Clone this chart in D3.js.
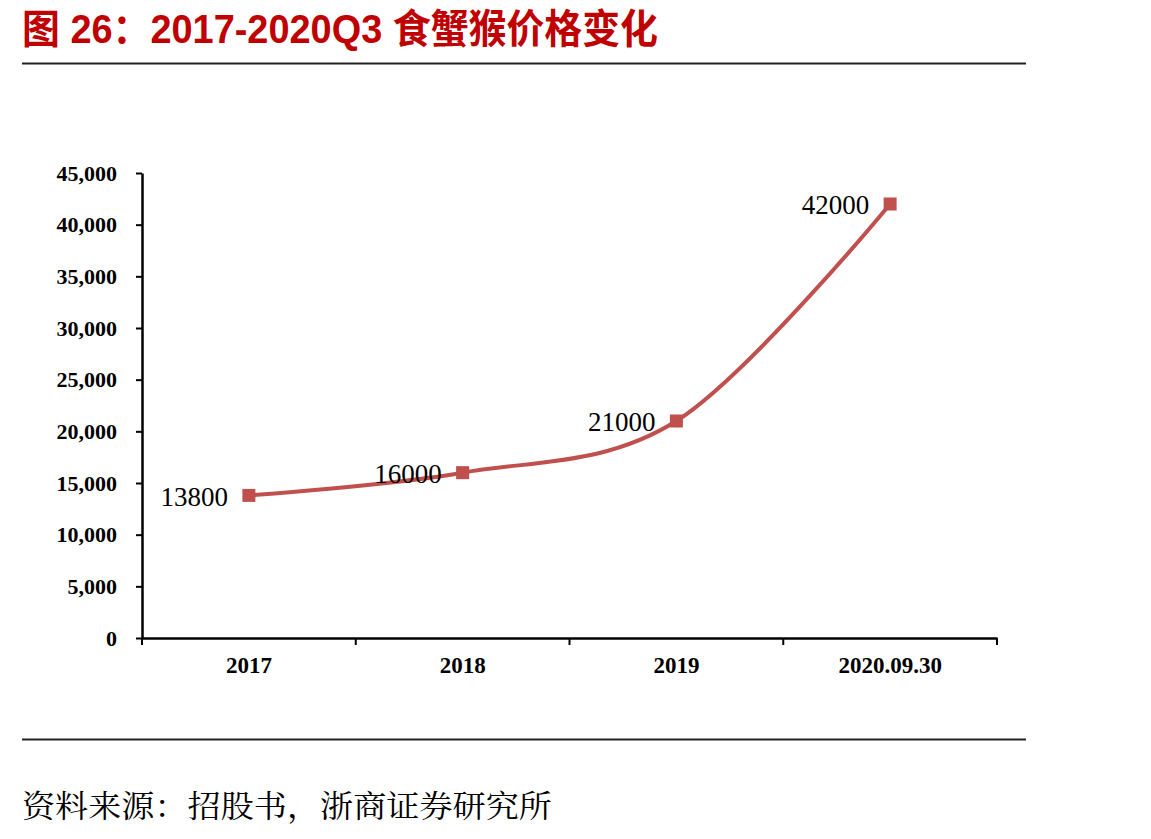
<!DOCTYPE html>
<html>
<head>
<meta charset="utf-8">
<script src="https://cdn.jsdelivr.net/npm/d3@7"></script>
<style>
  body { margin: 0; background: #fff; }
  svg { display: block; }
</style>
</head>
<body>
<svg id="chart" width="1151" height="839"></svg>
<script>
const categories = ["2017", "2018", "2019", "2020.09.30"]
const prices = [13800, 16000, 21000, 42000]
const yTicks = [0, 5000, 10000, 15000, 20000, 25000, 30000, 35000, 40000, 45000]

const width = 1151, height = 839
const margin = {top: 173, right: 154, bottom: 201, left: 142}

const svg = d3.select("#chart")

// title + rules
svg.append("text")
    .attr("x", 22).attr("y", 43)
    .attr("font-family", "Liberation Sans, Noto Sans CJK SC, sans-serif")
    .attr("font-weight", "bold")
    .attr("font-size", 40)
    .attr("fill", "#C00000")
    .attr("textLength", 636)
    .attr("lengthAdjust", "spacingAndGlyphs")
    .text("图 26：2017-2020Q3 食蟹猴价格变化")

svg.append("line")
    .attr("x1", 22).attr("x2", 1026).attr("y1", 63.5).attr("y2", 63.5)
    .attr("stroke", "#222").attr("stroke-width", 2)

svg.append("line")
    .attr("x1", 22).attr("x2", 1026).attr("y1", 739.5).attr("y2", 739.5)
    .attr("stroke", "#222").attr("stroke-width", 2)

svg.append("text")
    .attr("x", 22).attr("y", 817)
    .attr("font-family", "Noto Serif CJK SC, Noto Sans CJK SC, serif")
    .attr("font-size", 31)
    .attr("fill", "#000")
    .attr("textLength", 530)
    .attr("lengthAdjust", "spacingAndGlyphs")
    .text("资料来源：招股书，浙商证券研究所")

const x = d3.scaleBand()
    .domain(categories)
    .range([margin.left, width - margin.right])

const y = d3.scaleLinear()
    .domain([0, 45000])
    .range([height - margin.bottom, margin.top])

// y axis
const yAxis = g => g
    .attr("transform", `translate(${margin.left},0)`)
    .call(d3.axisLeft(y).tickValues(yTicks).tickSize(6).tickSizeOuter(0)
        .tickFormat(d3.format(",")))
    .call(g => g.select(".domain").attr("stroke-width", 2.5))
    .call(g => g.selectAll(".tick line").attr("stroke-width", 2))
    .call(g => g.selectAll(".tick text")
        .attr("x", -25)
        .attr("font-family", "Liberation Serif, serif")
        .attr("font-weight", "bold")
        .attr("font-size", 22)
        .attr("fill", "#000"))

// x axis
const xAxis = g => g
    .attr("transform", `translate(0,${height - margin.bottom})`)
    .call(d3.axisBottom(x).tickSize(0).tickSizeOuter(0))
    .call(g => g.select(".domain").attr("stroke-width", 2.5))
    .call(g => g.selectAll(".tick text")
        .attr("y", 19)
        .attr("font-family", "Liberation Serif, serif")
        .attr("font-weight", "bold")
        .attr("font-size", 23)
        .attr("fill", "#000"))

svg.append("g").call(yAxis)
svg.append("g").call(xAxis)

// band boundary ticks on x axis
const bounds = categories.map(c => x(c)).concat([x(categories[categories.length - 1]) + x.bandwidth()])
svg.append("g")
  .selectAll("line")
  .data(bounds)
  .join("line")
    .attr("x1", d => d).attr("x2", d => d)
    .attr("y1", height - margin.bottom).attr("y2", height - margin.bottom + 7)
    .attr("stroke", "#000").attr("stroke-width", 2)

const data = categories.map((c, i) => ({cat: c, value: prices[i]}))
const cx = d => x(d.cat) + x.bandwidth() / 2

const line = d3.line()
    .curve(d3.curveCardinal.tension(0))
    .x(cx)
    .y(d => y(d.value))

svg.append("path")
    .datum(data)
    .attr("fill", "none")
    .attr("stroke", "#C0504D")
    .attr("stroke-width", 4)
    .attr("stroke-linejoin", "round")
    .attr("d", line)

svg.append("g")
  .selectAll("rect")
  .data(data)
  .join("rect")
    .attr("x", d => cx(d) - 6.5)
    .attr("y", d => y(d.value) - 6.5)
    .attr("width", 13).attr("height", 13)
    .attr("fill", "#C0504D")

svg.append("g")
  .selectAll("text")
  .data(data)
  .join("text")
    .attr("x", d => cx(d) - 21)
    .attr("y", d => y(d.value) + 1)
    .attr("dy", "0.35em")
    .attr("text-anchor", "end")
    .attr("font-family", "Liberation Serif, serif")
    .attr("font-size", 27)
    .attr("fill", "#000")
    .text(d => d.value)
</script>
</body>
</html>
